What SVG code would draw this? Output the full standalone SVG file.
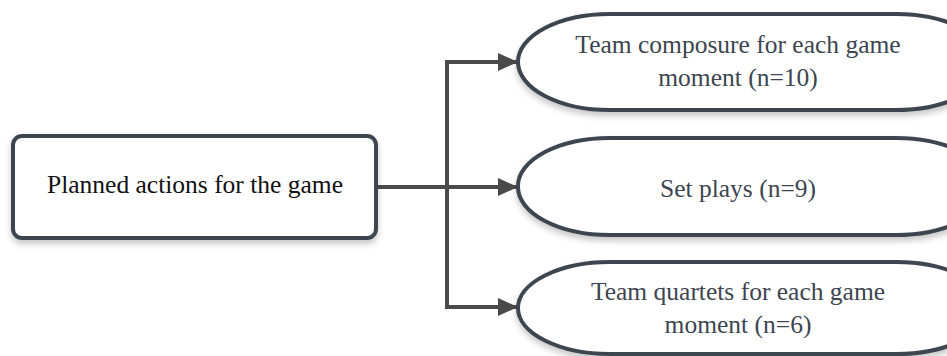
<svg xmlns="http://www.w3.org/2000/svg" width="947" height="356" viewBox="0 0 947 356">
  <defs>
    <filter id="shadow" x="-10%" y="-20%" width="120%" height="150%">
      <feDropShadow dx="0" dy="4" stdDeviation="3" flood-color="#000" flood-opacity="0.22"/>
    </filter>
    <marker id="arrow" viewBox="0 0 20 18" refX="20" refY="9" markerWidth="20" markerHeight="18" markerUnits="userSpaceOnUse" orient="auto">
      <path d="M0,0 L20,9 L0,18 Z" fill="#4a4a4a"/>
    </marker>
  </defs>
  <style>
    .box { fill: #ffffff; stroke: #3c4550; stroke-width: 4; filter: url(#shadow); }
    .conn { fill: none; stroke: #4a4a4a; stroke-width: 4; }
    .lbl { font-family: "Liberation Serif", "DejaVu Serif", serif; font-size: 25.5px; text-anchor: middle; fill: #3c4550; }
    .src { fill: #111111; }
  </style>
  <rect width="947" height="356" fill="#ffffff"/>

  <g id="connectors">
    <path class="conn" d="M376,187 H447"/>
    <path class="conn" d="M447,307 V62"/>
    <path class="conn" d="M445,62 H518" marker-end="url(#arrow)"/>
    <path class="conn" d="M447,187 H518" marker-end="url(#arrow)"/>
    <path class="conn" d="M445,307 H518" marker-end="url(#arrow)"/>
  </g>

  <g id="planned-actions">
    <rect class="box" x="13" y="136" width="363" height="102" rx="9"/>
    <text class="lbl src" x="195" y="193">Planned actions for the game</text>
  </g>

  <g id="team-composure">
    <rect class="box" x="518" y="14" width="470" height="96" rx="92" ry="48"/>
    <text class="lbl" x="738" y="53">Team composure for each game</text>
    <text class="lbl" x="738" y="86">moment (n=10)</text>
  </g>

  <g id="set-plays">
    <rect class="box" x="518" y="138" width="470" height="97" rx="92" ry="48"/>
    <text class="lbl" x="738" y="197">Set plays (n=9)</text>
  </g>

  <g id="team-quartets">
    <rect class="box" x="518" y="262" width="470" height="92" rx="92" ry="46"/>
    <text class="lbl" x="738" y="300">Team quartets for each game</text>
    <text class="lbl" x="738" y="333">moment (n=6)</text>
  </g>
</svg>
